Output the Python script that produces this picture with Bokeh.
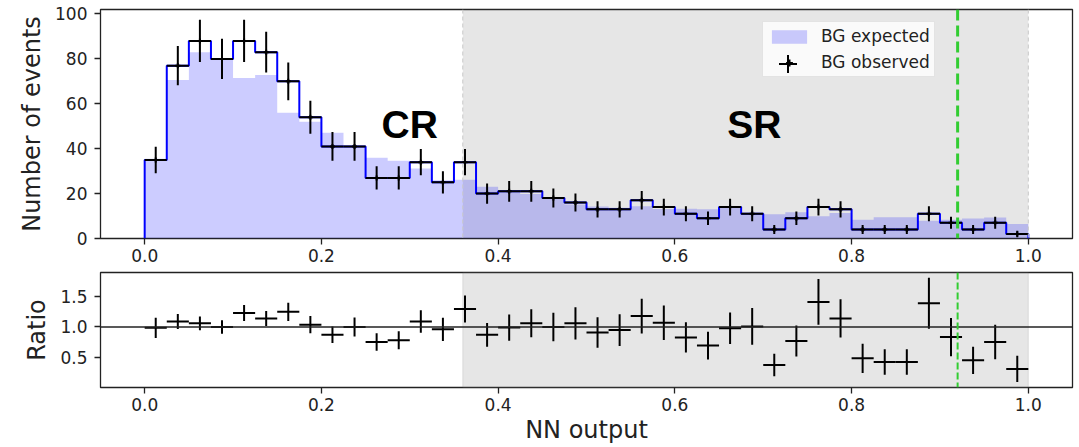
import numpy as np
from bokeh.plotting import figure
from bokeh.layouts import column
from bokeh.models import (Range1d, FixedTicker, PrintfTickFormatter, BoxAnnotation,
                          Span, Legend, LegendItem, ColumnDataSource)
from bokeh.core.properties import value
from bokeh.embed import file_html
from bokeh.resources import INLINE

# --- data -------------------------------------------------------------
n_bins = 40
bin_width = 0.025

# background events observed per NN-output bin
observed = [35, 77, 88, 80, 88, 83, 70, 54, 41, 41,
            27, 27, 34, 25, 34, 20, 21, 21, 18, 16,
            13, 13, 17, 14, 11, 9, 14, 11, 4, 9,
            14, 13, 4, 4, 4, 11, 7, 4, 7, 2]

# background expectation per bin
expected = [35.5, 70.6, 83.0, 80.0, 71.5, 72.8, 56.0, 52.0, 47.1, 41.0,
            36.0, 34.6, 31.2, 26.0, 26.2, 23.0, 21.2, 19.8, 18.0, 15.1,
            14.3, 13.7, 14.4, 13.1, 13.3, 13.0, 14.3, 10.9, 10.8, 11.7,
            9.9, 11.4, 8.3, 9.5, 9.5, 7.9, 8.4, 8.9, 9.3, 6.5]

cr_sr_boundary = 0.36   # control region / signal region split
nn_cut = 0.92           # final selection on the NN output

x_ticks = [0.0, 0.2, 0.4, 0.6, 0.8, 1.0]
count_ticks = [0, 20, 40, 60, 80, 100]
ratio_ticks = [0.5, 1.0, 1.5]

# --- derived quantities -----------------------------------------------
obs = np.array(observed, dtype=float)
exp_ = np.array(expected, dtype=float)
edges = np.arange(n_bins + 1) * bin_width
left, right = edges[:-1], edges[1:]
centers = 0.5 * (left + right)
obs_err = np.sqrt(obs)
ratio = obs / exp_
ratio_err = obs_err / exp_

FONT = "DejaVu Sans"
INK = "#222222"
GREEN = "#32cd32"


def style(p):
    p.outline_line_color = INK
    p.outline_line_width = 1.3
    p.xgrid.visible = False
    p.ygrid.visible = False
    for ax in list(p.xaxis) + list(p.yaxis):
        ax.axis_line_color = None
        ax.major_tick_line_color = INK
        ax.major_tick_line_width = 1.3
        ax.major_tick_out = 6
        ax.major_tick_in = 0
        ax.minor_tick_line_color = None
        ax.major_label_text_font = FONT
        ax.major_label_text_font_size = "17px"
        ax.major_label_text_color = INK
        ax.axis_label_text_font = FONT
        ax.axis_label_text_font_size = "24px"
        ax.axis_label_text_font_style = "normal"
        ax.axis_label_text_color = INK
    p.xaxis.major_label_standoff = 4
    p.yaxis.major_label_standoff = 7
    p.yaxis.axis_label_standoff = 6
    p.xaxis.ticker = FixedTicker(ticks=x_ticks)
    p.xaxis.formatter = PrintfTickFormatter(format="%.1f")


# --- upper panel: event counts ----------------------------------------
p1 = figure(frame_width=972, frame_height=229,
            min_border_left=100, min_border_right=7,
            min_border_top=9, min_border_bottom=32,
            x_range=Range1d(-0.05, 1.05), y_range=Range1d(0, 102),
            output_backend="svg", toolbar_location=None)
style(p1)
p1.yaxis.axis_label = "Number of events"
p1.yaxis.ticker = FixedTicker(ticks=count_ticks)

p1.add_layout(BoxAnnotation(left=cr_sr_boundary, right=1.0, fill_color="#808080",
                            fill_alpha=0.2, line_color=None, level="underlay"))

fill_src = ColumnDataSource(dict(x=edges, y1=np.zeros(n_bins + 1),
                                 y2=np.append(exp_, exp_[-1])))
r_fill = p1.varea_step(x="x", y1="y1", y2="y2", step_mode="after", source=fill_src,
                       fill_color="blue", fill_alpha=0.2)

step_x = np.concatenate([[edges[0]], edges, [edges[-1]]])
step_y = np.concatenate([[0.0], obs, [obs[-1], 0.0]])
p1.step(step_x, step_y, mode="after", line_color="blue", line_width=2)

p1.segment(x0=left, y0=obs, x1=right, y1=obs, line_color="black", line_width=2)
p1.segment(x0=centers, y0=obs - obs_err, x1=centers, y1=obs + obs_err,
           line_color="black", line_width=2)
r_cross = p1.scatter(centers, obs, marker="cross", size=5, line_color="black", line_width=2)

for loc in (cr_sr_boundary, 1.0):
    p1.add_layout(Span(location=loc, dimension="height", line_color="#c8c8c8",
                       line_width=1, line_dash="4 3"))
p1.add_layout(Span(location=nn_cut, dimension="height", line_color=GREEN,
                   line_width=3, line_dash="11 5"))

p1.text(x=[0.3, 0.69], y=[51, 51], text=["CR", "SR"], text_align="center",
        text_baseline="alphabetic", text_font=value("Liberation Sans"),
        text_font_style="bold", text_font_size="39px", text_color="black")

legend_box = Legend(items=[LegendItem(label="BG expected", renderers=[r_fill]),
                           LegendItem(label="BG observed", renderers=[r_cross])],
                    location=(662, 161), orientation="vertical",
                    border_line_color="#cccccc", border_line_width=1,
                    background_fill_color="white", background_fill_alpha=0.8,
                    label_text_font=FONT, label_text_font_size="17px",
                    label_text_color=INK, glyph_width=44, glyph_height=17,
                    label_height=20, label_standoff=10, padding=4, spacing=6, margin=0)
p1.add_layout(legend_box)

# larger cross symbol for the observed entry
legend_cross = Legend(items=[LegendItem(label=" ", renderers=[r_cross])],
                      location=(665, 152), border_line_color=None,
                      background_fill_alpha=0, glyph_width=45, glyph_height=45,
                      padding=0, margin=0, label_text_font_size="2px")
p1.add_layout(legend_cross)

# --- lower panel: observed / expected ---------------------------------
p2 = figure(frame_width=972, frame_height=115,
            min_border_left=100, min_border_right=7,
            min_border_top=2, min_border_bottom=60,
            x_range=p1.x_range, y_range=Range1d(0, 1.9),
            output_backend="svg", toolbar_location=None)
style(p2)
p2.xaxis.axis_label = "NN output"
p2.xaxis.axis_label_standoff = 2
p2.yaxis.axis_label = "Ratio"
p2.yaxis.ticker = FixedTicker(ticks=ratio_ticks)
p2.yaxis.formatter = PrintfTickFormatter(format="%.1f")

p2.add_layout(BoxAnnotation(left=cr_sr_boundary, right=1.0, fill_color="#808080",
                            fill_alpha=0.2, line_color="#808080", line_alpha=0.2,
                            level="underlay"))
p2.add_layout(Span(location=1.0, dimension="width", line_color=INK, line_width=1.5))
p2.segment(x0=left, y0=ratio, x1=right, y1=ratio, line_color="black", line_width=2)
p2.segment(x0=centers, y0=ratio - ratio_err, x1=centers, y1=ratio + ratio_err,
           line_color="black", line_width=2)
p2.add_layout(Span(location=nn_cut, dimension="height", line_color=GREEN,
                   line_width=2, line_dash="7 3"))

layout = column(p1, p2)
open("out.html", "w").write(file_html(layout, INLINE))
